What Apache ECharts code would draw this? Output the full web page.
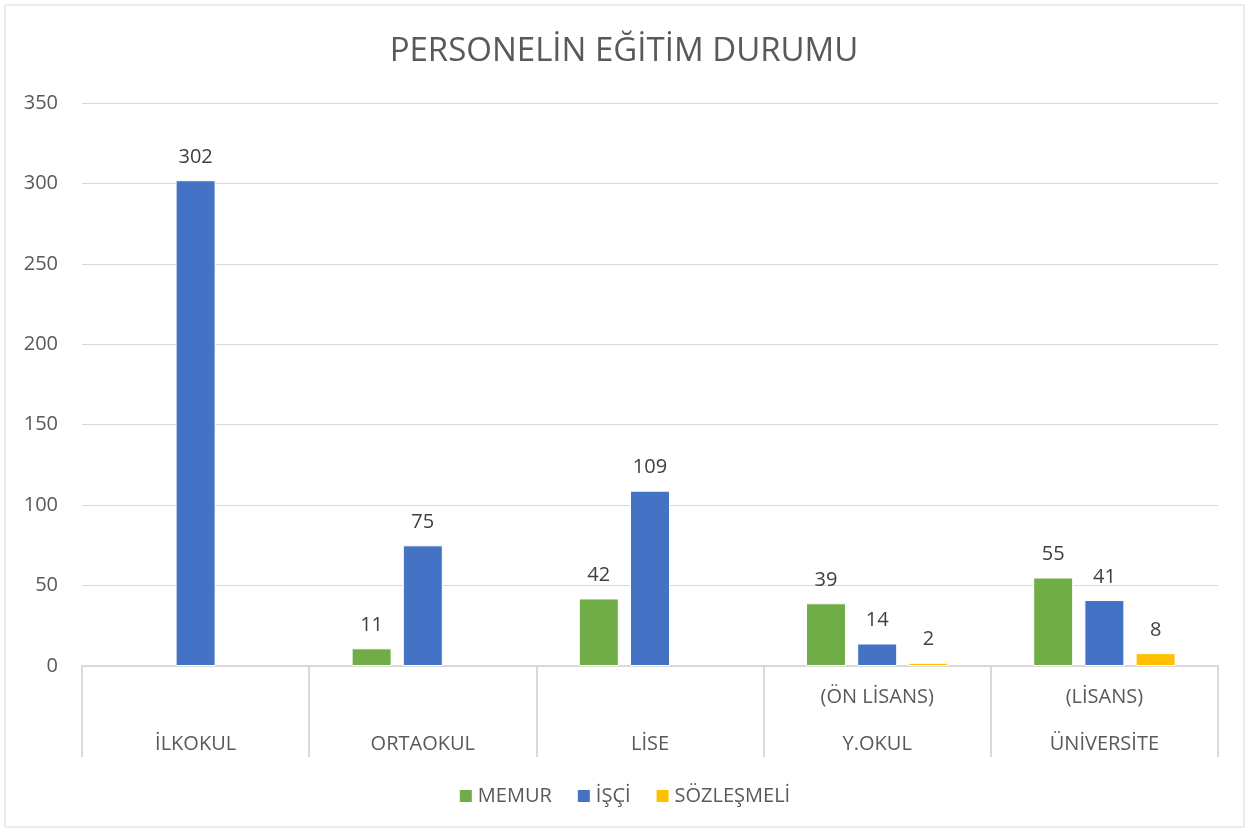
<!DOCTYPE html>
<html>
<head>
<meta charset="utf-8" />
<title>Personelin Eğitim Durumu</title>
<script src="https://cdn.jsdelivr.net/npm/echarts@6/dist/echarts.min.js"></script>
<style>
  html, body { margin: 0; padding: 0; background: #fff; }
  #main { width: 1248px; height: 829px; }
</style>
</head>
<body>
<div id="main"></div>
<script type="text/javascript">
var categories = ['İLKOKUL', 'ORTAOKUL', 'LİSE', 'Y.OKUL', 'ÜNİVERSİTE'];
var subLabels = ['', '', '', '(ÖN LİSANS)', '(LİSANS)'];
var memur = [null, 11, 42, 39, 55];
var isci = [302, 75, 109, 14, 41];
var sozlesmeli = [null, null, null, 2, 8];

var font = 'Open Sans, Noto Sans, sans-serif';
var textColor = '#595959';

function barSeries(name, data, color) {
    return {
        name: name,
        type: 'bar',
        data: data,
        barWidth: 40,
        barGap: '28%',
        itemStyle: { color: color, borderColor: '#ffffff', borderWidth: 1 },
        label: {
            show: true,
            position: 'top',
            distance: 13,
            color: '#404040',
            fontFamily: font,
            fontSize: 20
        }
    };
}

var myChart = echarts.init(document.getElementById('main'));
var option = {
    backgroundColor: '#ffffff',
    graphic: [{
        type: 'rect',
        shape: { x: 5, y: 5, width: 1239, height: 822 },
        style: { fill: 'none', stroke: '#d9d9d9', lineWidth: 1 },
        silent: true
    }],
    title: {
        text: 'PERSONELİN EĞİTİM DURUMU',
        left: 'center',
        top: 30,
        textStyle: {
            color: textColor,
            fontFamily: font,
            fontSize: 33,
            fontWeight: 'normal'
        }
    },
    legend: {
        bottom: 18,
        left: 'center',
        itemWidth: 14,
        itemHeight: 14,
        itemGap: 24,
        icon: 'rect',
        textStyle: { color: textColor, fontFamily: font, fontSize: 20 },
        data: ['MEMUR', 'İŞÇİ', 'SÖZLEŞMELİ']
    },
    grid: {
        left: 82,
        right: 30,
        top: 103,
        bottom: 163
    },
    xAxis: {
        type: 'category',
        data: categories,
        axisLine: { lineStyle: { color: '#d9d9d9', width: 2 } },
        axisTick: {
            show: true,
            interval: 0,
            length: 91,
            lineStyle: { color: '#d9d9d9', width: 2 }
        },
        axisLabel: {
            interval: 0,
            margin: 8,
            formatter: function (value, idx) {
                return '{a|' + (subLabels[idx] || ' ') + '}\n{b|' + value + '}';
            },
            rich: {
                a: { color: textColor, fontFamily: font, fontSize: 20, lineHeight: 47 },
                b: { color: textColor, fontFamily: font, fontSize: 20, lineHeight: 47 }
            }
        }
    },
    yAxis: {
        type: 'value',
        min: 0,
        max: 350,
        interval: 50,
        axisLine: { show: false },
        axisTick: { show: false },
        axisLabel: {
            color: textColor,
            fontFamily: font,
            fontSize: 20,
            margin: 24
        },
        splitLine: { lineStyle: { color: '#d9d9d9', width: 1 } }
    },
    series: [
        barSeries('MEMUR', memur, '#70ad47'),
        barSeries('İŞÇİ', isci, '#4472c4'),
        barSeries('SÖZLEŞMELİ', sozlesmeli, '#ffc000')
    ]
};
myChart.setOption(option);
</script>
</body>
</html>
